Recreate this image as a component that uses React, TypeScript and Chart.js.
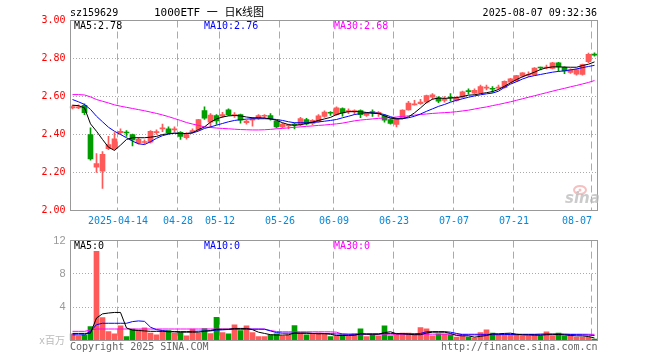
import React, { useEffect, useRef } from 'react';
import { Chart, registerables } from 'chart.js';

Chart.register(...registerables);

const DATES = [
  '2025-04-01','2025-04-02','2025-04-03','2025-04-07','2025-04-08','2025-04-09','2025-04-10','2025-04-11','2025-04-14','2025-04-15',
  '2025-04-16','2025-04-17','2025-04-18','2025-04-21','2025-04-22','2025-04-23','2025-04-24','2025-04-25','2025-04-28','2025-04-29',
  '2025-04-30','2025-05-06','2025-05-07','2025-05-08','2025-05-09','2025-05-12','2025-05-13','2025-05-14','2025-05-15','2025-05-16',
  '2025-05-19','2025-05-20','2025-05-21','2025-05-22','2025-05-23','2025-05-26','2025-05-27','2025-05-28','2025-05-29','2025-05-30',
  '2025-06-03','2025-06-04','2025-06-05','2025-06-06','2025-06-09','2025-06-10','2025-06-11','2025-06-12','2025-06-13','2025-06-16',
  '2025-06-17','2025-06-18','2025-06-19','2025-06-20','2025-06-23','2025-06-24','2025-06-25','2025-06-26','2025-06-27','2025-06-30',
  '2025-07-01','2025-07-02','2025-07-03','2025-07-04','2025-07-07','2025-07-08','2025-07-09','2025-07-10','2025-07-11','2025-07-14',
  '2025-07-15','2025-07-16','2025-07-17','2025-07-18','2025-07-21','2025-07-22','2025-07-23','2025-07-24','2025-07-25','2025-07-28',
  '2025-07-29','2025-07-30','2025-07-31','2025-08-01','2025-08-04','2025-08-05','2025-08-06','2025-08-07',
];

const OPEN = [
  2.540, 2.540, 2.553, 2.400, 2.228, 2.207, 2.326, 2.325, 2.410, 2.412,
  2.400, 2.356, 2.358, 2.360, 2.410, 2.430, 2.430, 2.424, 2.412, 2.383,
  2.415, 2.426, 2.526, 2.465, 2.500, 2.496, 2.530, 2.500, 2.505, 2.462,
  2.475, 2.488, 2.496, 2.500, 2.470, 2.440, 2.445, 2.453, 2.450, 2.478,
  2.458, 2.468, 2.495, 2.516, 2.505, 2.537, 2.520, 2.520, 2.526, 2.500,
  2.520, 2.511, 2.500, 2.479, 2.453, 2.488, 2.530, 2.556, 2.562, 2.570,
  2.596, 2.593, 2.580, 2.596, 2.580, 2.596, 2.630, 2.618, 2.620, 2.644,
  2.642, 2.644, 2.646, 2.675, 2.682, 2.707, 2.712, 2.714, 2.753, 2.750,
  2.748, 2.777, 2.754, 2.727, 2.718, 2.716, 2.783, 2.822,
];
const HIGH = [
  2.555, 2.556, 2.562, 2.435, 2.300, 2.310, 2.390, 2.410, 2.430, 2.420,
  2.402, 2.385, 2.372, 2.420, 2.425, 2.455, 2.440, 2.440, 2.415, 2.410,
  2.430, 2.480, 2.545, 2.510, 2.505, 2.517, 2.535, 2.515, 2.508, 2.475,
  2.490, 2.505, 2.505, 2.510, 2.472, 2.460, 2.455, 2.460, 2.490, 2.485,
  2.478, 2.505, 2.525, 2.520, 2.545, 2.540, 2.535, 2.530, 2.530, 2.515,
  2.530, 2.520, 2.505, 2.482, 2.488, 2.530, 2.575, 2.580, 2.585, 2.608,
  2.616, 2.600, 2.600, 2.616, 2.600, 2.628, 2.640, 2.640, 2.660, 2.660,
  2.652, 2.660, 2.682, 2.695, 2.712, 2.726, 2.730, 2.752, 2.755, 2.765,
  2.780, 2.780, 2.756, 2.745, 2.745, 2.770, 2.828, 2.830,
];
const LOW = [
  2.535, 2.536, 2.505, 2.265, 2.200, 2.116, 2.320, 2.320, 2.400, 2.390,
  2.340, 2.350, 2.350, 2.355, 2.400, 2.415, 2.405, 2.415, 2.374, 2.375,
  2.410, 2.420, 2.480, 2.437, 2.453, 2.490, 2.500, 2.490, 2.460, 2.455,
  2.444, 2.480, 2.485, 2.475, 2.435, 2.435, 2.430, 2.430, 2.445, 2.450,
  2.450, 2.465, 2.490, 2.500, 2.500, 2.496, 2.510, 2.505, 2.488, 2.495,
  2.495, 2.495, 2.465, 2.455, 2.440, 2.485, 2.528, 2.555, 2.558, 2.565,
  2.585, 2.568, 2.570, 2.575, 2.575, 2.592, 2.612, 2.612, 2.618, 2.635,
  2.622, 2.638, 2.644, 2.672, 2.678, 2.702, 2.705, 2.712, 2.740, 2.745,
  2.745, 2.733, 2.720, 2.722, 2.712, 2.712, 2.778, 2.812,
];
const CLOSE = [
  2.547, 2.546, 2.515, 2.272, 2.247, 2.295, 2.347, 2.377, 2.417, 2.408,
  2.372, 2.374, 2.362, 2.417, 2.415, 2.435, 2.410, 2.428, 2.390, 2.400,
  2.419, 2.479, 2.486, 2.502, 2.472, 2.505, 2.505, 2.505, 2.476, 2.470,
  2.483, 2.500, 2.500, 2.483, 2.440, 2.455, 2.450, 2.450, 2.484, 2.456,
  2.474, 2.498, 2.518, 2.512, 2.540, 2.514, 2.525, 2.524, 2.505, 2.510,
  2.516, 2.515, 2.475, 2.458, 2.483, 2.528, 2.565, 2.562, 2.570, 2.605,
  2.609, 2.575, 2.586, 2.592, 2.593, 2.624, 2.626, 2.633, 2.652, 2.648,
  2.638, 2.648, 2.680, 2.693, 2.710, 2.724, 2.716, 2.750, 2.750, 2.754,
  2.777, 2.756, 2.734, 2.740, 2.742, 2.768, 2.822, 2.818,
];

const MA5 = [
  2.554, 2.552, 2.540, 2.456, 2.417, 2.374, 2.333, 2.316, 2.344, 2.374,
  2.383, 2.383, 2.383, 2.386, 2.390, 2.400, 2.404, 2.407, 2.405, 2.405,
  2.409, 2.426, 2.440, 2.465, 2.482, 2.492, 2.498, 2.500, 2.498, 2.492,
  2.488, 2.488, 2.487, 2.482, 2.475, 2.462, 2.452, 2.448, 2.452, 2.458,
  2.465, 2.474, 2.482, 2.490, 2.505, 2.514, 2.520, 2.520, 2.520, 2.516,
  2.512, 2.510, 2.498, 2.486, 2.482, 2.483, 2.493, 2.514, 2.540, 2.568,
  2.586, 2.592, 2.590, 2.592, 2.594, 2.600, 2.607, 2.609, 2.615, 2.620,
  2.626, 2.637, 2.654, 2.672, 2.689, 2.704, 2.716, 2.728, 2.742, 2.751,
  2.756, 2.756, 2.755, 2.754, 2.754, 2.763, 2.770, 2.782,
];
const MA10 = [
  2.584, 2.572, 2.558, 2.532, 2.496, 2.467, 2.438, 2.417, 2.400, 2.383,
  2.365, 2.351, 2.347, 2.362, 2.380, 2.394, 2.402, 2.407, 2.405, 2.405,
  2.408, 2.418, 2.432, 2.440, 2.449, 2.458, 2.467, 2.474, 2.478, 2.481,
  2.483, 2.483, 2.483, 2.482, 2.479, 2.474, 2.467, 2.462, 2.462, 2.462,
  2.463, 2.466, 2.470, 2.474, 2.479, 2.488, 2.496, 2.505, 2.510, 2.514,
  2.514, 2.512, 2.505, 2.494, 2.484, 2.483, 2.488, 2.496, 2.508, 2.522,
  2.535, 2.548, 2.558, 2.570, 2.580, 2.588, 2.596, 2.603, 2.609, 2.614,
  2.618, 2.628, 2.648, 2.665, 2.678, 2.692, 2.703, 2.710, 2.716, 2.722,
  2.728, 2.732, 2.735, 2.740, 2.745, 2.752, 2.758, 2.764,
];
const MA30 = [
  2.610, 2.610, 2.608, 2.598, 2.584, 2.575, 2.566, 2.556, 2.549, 2.543,
  2.537, 2.531, 2.525, 2.518, 2.511, 2.503, 2.494, 2.484, 2.474, 2.463,
  2.455, 2.448, 2.440, 2.437, 2.434, 2.432, 2.430, 2.428, 2.426, 2.425,
  2.424, 2.424, 2.425, 2.427, 2.430, 2.432, 2.435, 2.438, 2.440, 2.443,
  2.445, 2.448, 2.450, 2.453, 2.456, 2.460, 2.466, 2.472, 2.476, 2.479,
  2.482, 2.485, 2.487, 2.489, 2.492, 2.495, 2.498, 2.502, 2.505, 2.508,
  2.511, 2.513, 2.515, 2.517, 2.520, 2.524, 2.528, 2.534, 2.540, 2.545,
  2.552, 2.558, 2.565, 2.572, 2.580, 2.588, 2.596, 2.604, 2.612, 2.620,
  2.628, 2.636, 2.643, 2.651, 2.658, 2.666, 2.674, 2.684,
];

// volume, millions
const VOLUME = [
  0.80, 0.56, 0.68, 1.67, 10.7, 2.74, 1.07, 0.80, 1.75, 0.48,
  1.36, 1.28, 1.51, 0.88, 0.68, 1.16, 1.20, 0.88, 0.96, 0.56,
  1.36, 0.88, 1.43, 0.84, 2.79, 0.96, 0.80, 1.87, 1.20, 1.75,
  0.96, 0.48, 0.48, 0.68, 0.80, 0.56, 0.68, 1.79, 0.88, 0.68,
  0.76, 0.88, 0.80, 0.48, 0.56, 0.68, 0.56, 0.80, 1.39, 0.48,
  0.68, 0.56, 1.75, 0.56, 0.80, 0.88, 0.88, 0.80, 1.55, 1.39,
  0.56, 0.80, 0.76, 0.68, 0.40, 0.56, 0.40, 0.28, 0.96, 1.28,
  0.88, 0.68, 0.68, 0.68, 0.68, 0.56, 0.56, 0.68, 0.56, 1.04,
  0.56, 0.88, 0.56, 0.68, 0.40, 0.40, 0.40, 0.17,
];
const VOL_MA5 = [
  0.85, 0.85, 0.85, 0.88, 2.7, 3.2, 3.3, 3.37, 3.37, 1.5,
  1.25, 1.2, 1.15, 1.1, 1.1, 1.1, 1.05, 1.05, 1.0, 1.0,
  1.0, 1.0, 1.1, 1.2, 1.35, 1.35, 1.35, 1.45, 1.45, 1.45,
  1.3, 1.0, 0.85, 0.7, 0.65, 0.65, 0.68, 0.9, 0.9, 0.9,
  0.85, 0.8, 0.82, 0.75, 0.6, 0.6, 0.6, 0.62, 0.8, 0.75,
  0.75, 0.75, 0.95, 1.05, 0.8, 0.8, 0.75, 0.7, 0.7, 0.9,
  1.0, 1.0, 1.0, 0.85, 0.6, 0.56, 0.56, 0.4, 0.5, 0.6,
  0.8, 0.8, 0.85, 0.88, 0.75, 0.68, 0.65, 0.65, 0.62, 0.7,
  0.7, 0.72, 0.68, 0.6, 0.56, 0.55, 0.48, 0.3,
];
const VOL_MA10 = [
  0.68, 0.68, 0.68, 1.1, 1.9, 2.07, 2.07, 2.07, 2.07, 2.07,
  2.27, 2.35, 2.3, 1.6, 1.3, 1.2, 1.1, 1.07, 1.07, 1.07,
  1.1, 1.12, 1.15, 1.15, 1.25, 1.28, 1.33, 1.36, 1.36, 1.36,
  1.36, 1.36, 1.35, 1.15, 0.95, 0.88, 0.88, 0.88, 0.86, 0.86,
  0.85, 0.85, 0.84, 0.82, 0.78, 0.78, 0.75, 0.75, 0.78, 0.8,
  0.8, 0.8, 0.85, 0.85, 0.85, 0.82, 0.8, 0.8, 0.85, 1.05,
  1.07, 1.07, 1.07, 1.0, 0.85, 0.7, 0.68, 0.68, 0.68, 0.7,
  0.7, 0.7, 0.72, 0.72, 0.7, 0.7, 0.72, 0.72, 0.75, 0.78,
  0.78, 0.78, 0.75, 0.72, 0.7, 0.68, 0.65, 0.6,
];
const VOL_MA30 = [
  1.1, 1.1, 1.1, 1.25, 1.38, 1.38, 1.38, 1.38, 1.38, 1.38,
  1.38, 1.38, 1.38, 1.38, 1.38, 1.38, 1.38, 1.38, 1.38, 1.38,
  1.38, 1.38, 1.38, 1.38, 1.38, 1.38, 1.38, 1.38, 1.38, 1.38,
  1.38, 1.38, 1.38, 1.2, 1.08, 1.04, 1.04, 1.04, 1.04, 1.04,
  1.04, 1.04, 1.04, 1.04, 1.0, 0.76, 0.76, 0.76, 0.76, 0.76,
  0.76, 0.76, 0.76, 0.76, 0.76, 0.76, 0.76, 0.76, 0.76, 0.76,
  0.76, 0.76, 0.76, 0.76, 0.76, 0.76, 0.76, 0.76, 0.76, 0.76,
  0.76, 0.76, 0.76, 0.76, 0.76, 0.76, 0.76, 0.76, 0.76, 0.76,
  0.76, 0.76, 0.76, 0.76, 0.76, 0.76, 0.75, 0.74,
];

const X_MARK_DATES = ['2025-04-14', '2025-04-28', '2025-05-12', '2025-05-26', '2025-06-09', '2025-06-23', '2025-07-07', '2025-07-21', '2025-08-07'];
const X_MARK_TEXT = ['2025-04-14', '04-28', '05-12', '05-26', '06-09', '06-23', '07-07', '07-21', '08-07'];
const PRICE_LEGEND = ['MA5:2.78', 'MA10:2.76', 'MA30:2.68'];
const VOL_LEGEND = ['MA5:0', 'MA10:0', 'MA30:0'];
const CODE = 'sz159629';
const TITLE = '1000ETF 一 日K线图';
const STAMP = '2025-08-07 09:32:36';
const VOL_UNIT = 'x百万';
const COPYRIGHT = 'Copyright 2025 SINA.COM';
const SITE = 'http://finance.sina.com.cn';

const RED = '#ff5a5a';
const GREEN = '#009c00';
const MA_COLORS = ['#000000', '#0000ff', '#ff00ff'];
const GRID = '#aaaaaa';
const FRAME = '#999999';
const MONO = '"DejaVu Sans Mono", "Noto Sans CJK SC", monospace';

const MARK_IDX = new Set(X_MARK_DATES.map((d) => DATES.indexOf(d)));
const UP = CLOSE.map((c, i) => c >= OPEN[i]);
const CANDLE_COLORS = UP.map((u) => (u ? RED : GREEN));

function drawFrame(chart: any) {
  const { ctx, chartArea: a } = chart;
  const L = Math.ceil(a.left) + 0.5;
  const R = Math.floor(a.right) + 0.5;
  const T = Math.floor(a.top) + 0.5;
  const B = Math.floor(a.bottom) + 0.5;
  ctx.save();
  ctx.setLineDash([]);
  ctx.lineWidth = 1;
  ctx.strokeStyle = FRAME;
  ctx.strokeRect(L, T, R - L, B - T);
  ctx.restore();
}

function drawLegend(ctx: CanvasRenderingContext2D, labels: string[], y: number) {
  const xs = [74, 204, 334];
  ctx.font = `10px ${MONO}`;
  ctx.textAlign = 'left';
  ctx.textBaseline = 'middle';
  labels.forEach((t, k) => {
    ctx.fillStyle = MA_COLORS[k];
    ctx.fillText(t, xs[k], y);
  });
}

const mainDeco = {
  id: 'mainDeco',
  afterDraw(chart: any) {
    drawFrame(chart);
    const { ctx, scales } = chart;
    const xs = scales.x;
    ctx.save();
    // header
    ctx.textBaseline = 'middle';
    ctx.fillStyle = '#000';
    ctx.font = `10px ${MONO}`;
    ctx.textAlign = 'left';
    ctx.fillText(CODE, 70, 13.5);
    ctx.textAlign = 'right';
    ctx.fillText(STAMP, 597, 13.5);
    ctx.font = `11px ${MONO}`;
    ctx.textAlign = 'center';
    ctx.fillText(TITLE, 209, 13.5);
    // legend
    drawLegend(ctx, PRICE_LEGEND, 26.5);
    // x labels
    const half = (xs.getPixelForValue(1) - xs.getPixelForValue(0)) / 2;
    ctx.font = `10px ${MONO}`;
    ctx.fillStyle = '#0a88d8';
    ctx.textBaseline = 'middle';
    X_MARK_DATES.forEach((d, k) => {
      const i = DATES.indexOf(d);
      const lx = xs.getPixelForValue(i) - half + 0.5;
      ctx.textAlign = k === X_MARK_DATES.length - 1 ? 'right' : 'center';
      ctx.fillText(X_MARK_TEXT[k], lx, 221.5);
    });
    // sina watermark
    ctx.strokeStyle = 'rgba(240,150,150,0.6)';
    ctx.lineWidth = 2;
    ctx.beginPath();
    ctx.ellipse(580, 190, 6, 4, 0, 0, Math.PI * 2);
    ctx.stroke();
    ctx.fillStyle = 'rgba(240,150,150,0.6)';
    ctx.beginPath();
    ctx.arc(580, 190, 1.5, 0, Math.PI * 2);
    ctx.fill();
    ctx.font = 'italic bold 15px "DejaVu Sans", sans-serif';
    ctx.fillStyle = 'rgba(185,185,185,0.75)';
    ctx.textAlign = 'left';
    ctx.textBaseline = 'alphabetic';
    ctx.fillText('sina', 565, 203);
    ctx.restore();
  },
};

const volDeco = {
  id: 'volDeco',
  afterDraw(chart: any) {
    drawFrame(chart);
    const { ctx } = chart;
    ctx.save();
    drawLegend(ctx, VOL_LEGEND, 16.5);
    ctx.font = `10px ${MONO}`;
    ctx.textBaseline = 'middle';
    ctx.fillStyle = '#bbbbbb';
    ctx.textAlign = 'right';
    ctx.fillText(VOL_UNIT, 65, 111);
    ctx.fillStyle = '#666666';
    ctx.textAlign = 'left';
    ctx.fillText(COPYRIGHT, 70, 117.5);
    ctx.textAlign = 'right';
    ctx.fillText(SITE, 597.5, 117.5);
    ctx.restore();
  },
};

const xScale = (h: number) => ({
  type: 'category' as const,
  offset: true,
  grid: {
    offset: true,
    drawTicks: false,
    lineWidth: 1,
    color: (c: any) => (MARK_IDX.has(c.index) ? GRID : 'rgba(0,0,0,0)'),
  },
  border: { display: false, dash: [7, 4] },
  ticks: { display: false, autoSkip: false },
  afterFit: (s: any) => {
    s.height = h;
  },
});

export default function App() {
  const mainRef = useRef<HTMLCanvasElement>(null);
  const volRef = useRef<HTMLCanvasElement>(null);

  useEffect(() => {
    if (!mainRef.current || !volRef.current) return;

    const lineDs = (data: number[], k: number) => ({
      type: 'line' as const,
      data,
      borderColor: MA_COLORS[k],
      borderWidth: 1,
      pointRadius: 0,
      tension: 0,
      fill: false,
      order: 0,
    });

    const main = new Chart(mainRef.current, {
      type: 'bar',
      data: {
        labels: DATES,
        datasets: [
          {
            type: 'bar',
            data: OPEN.map((o, i) => [o, CLOSE[i]]),
            backgroundColor: CANDLE_COLORS,
            borderWidth: 0,
            barThickness: 5,
            minBarLength: 1,
            grouped: false,
            order: 1,
          } as any,
          {
            type: 'bar',
            data: LOW.map((l, i) => [l, HIGH[i]]),
            backgroundColor: CANDLE_COLORS,
            borderWidth: 0,
            barThickness: 1,
            grouped: false,
            order: 2,
          } as any,
          lineDs(MA5, 0),
          lineDs(MA10, 1),
          lineDs(MA30, 2),
        ],
      },
      options: {
        responsive: false,
        animation: false,
        events: [],
        layout: { padding: { top: 20.5, right: 62.5, left: 0, bottom: 0 } },
        plugins: { legend: { display: false }, tooltip: { enabled: false } },
        scales: {
          x: xScale(19.5) as any,
          y: {
            min: 2,
            max: 3,
            ticks: {
              stepSize: 0.2,
              color: '#ff0000',
              padding: 4,
              font: { family: MONO, size: 10 },
              callback: (v: any) => Number(v).toFixed(2),
            },
            grid: {
              drawTicks: false,
              lineWidth: 1,
              color: (c: any) => {
                const v = c.tick ? c.tick.value : 0;
                return Math.abs(v - 2) < 1e-6 || Math.abs(v - 3) < 1e-6 ? 'rgba(0,0,0,0)' : GRID;
              },
            },
            border: { display: false, dash: [1, 2] },
            afterFit: (s: any) => {
              s.width = 69.5;
            },
          } as any,
        },
      },
      plugins: [mainDeco],
    });

    const vol = new Chart(volRef.current, {
      type: 'bar',
      data: {
        labels: DATES,
        datasets: [
          {
            type: 'bar',
            data: VOLUME,
            backgroundColor: CANDLE_COLORS,
            borderWidth: 0,
            barThickness: 5,
            grouped: false,
            order: 1,
          } as any,
          lineDs(VOL_MA5, 0),
          lineDs(VOL_MA10, 1),
          lineDs(VOL_MA30, 2),
        ],
      },
      options: {
        responsive: false,
        animation: false,
        events: [],
        layout: { padding: { top: 10.5, right: 62.5, left: 0, bottom: 0 } },
        plugins: { legend: { display: false }, tooltip: { enabled: false } },
        scales: {
          x: xScale(19.5) as any,
          y: {
            min: 0,
            max: 12,
            ticks: {
              stepSize: 4,
              color: '#999999',
              padding: 4,
              font: { family: '"Liberation Sans", sans-serif', size: 11 },
              callback: (v: any) => (Number(v) === 0 ? '' : String(v)),
            },
            grid: {
              drawTicks: false,
              lineWidth: 1,
              color: (c: any) => {
                const v = c.tick ? c.tick.value : 0;
                return v === 0 || v === 12 ? 'rgba(0,0,0,0)' : GRID;
              },
            },
            border: { display: false, dash: [1, 2] },
            afterFit: (s: any) => {
              s.width = 69.5;
            },
          } as any,
        },
      },
      plugins: [volDeco],
    });

    return () => {
      main.destroy();
      vol.destroy();
    };
  }, []);

  return (
    <div style={{ position: 'absolute', left: 0, top: 0, width: 660, height: 360, background: '#fff' }}>
      <canvas ref={mainRef} width={660} height={230} style={{ position: 'absolute', left: 0, top: 0, display: 'block' }} />
      <canvas ref={volRef} width={660} height={130} style={{ position: 'absolute', left: 0, top: 230, display: 'block' }} />
    </div>
  );
}
